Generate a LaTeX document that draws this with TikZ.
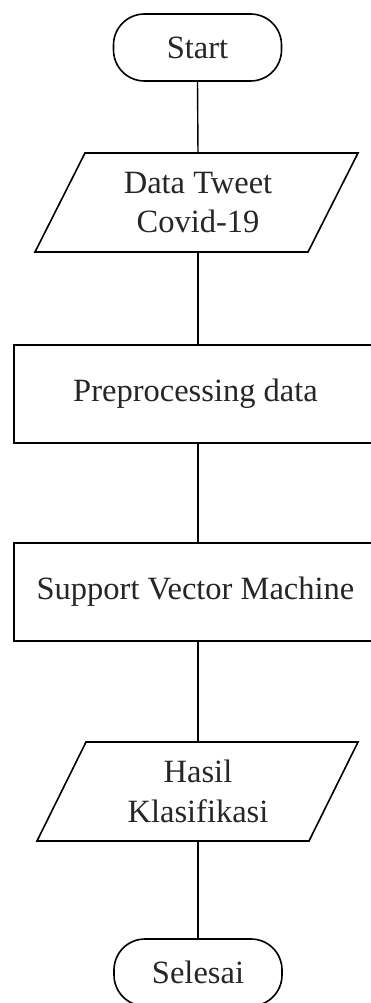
\documentclass[tikz,border=0pt]{standalone}
\usepackage{fontspec}
\setmainfont{Liberation Serif}
\begin{document}
\begin{tikzpicture}[x=1pt,y=-1pt,
  every node/.style={font=\fontsize{32.5}{39.5}\selectfont, text=black!85, inner sep=0pt},
  term/.style={draw, line width=1.6pt, rectangle, rounded corners=31pt, minimum width=168pt, minimum height=67pt},
  procbox/.style={draw, line width=1.6pt, rectangle, minimum width=368pt, minimum height=98pt},
  iobox/.style={minimum height=99pt, align=center},
  shapeline/.style={draw, line width=1.6pt, line join=miter},
  link/.style={draw, line width=1.4pt}]
\useasboundingbox (0,0) rectangle (371,1003);
\clip (0,0) rectangle (371,1003);
\fill[white] (0,0) rectangle (371,1003);

\node[term] (start) at (197.5,47.5) {Start};

\node[iobox] (data) at (198,202.5) {Data Tweet\\Covid-19};
\path[shapeline] (85,153) -- (358,153) -- (308,252) -- (35,252) -- cycle;

\node[procbox] (prep) at (198,394) {\hspace*{-5pt}Preprocessing data};

\node[procbox] (svm) at (198,592) {\hspace*{-5pt}Support Vector Machine};

\node[iobox] (hasil) at (198,791.5) {Hasil\\Klasifikasi};
\path[shapeline] (86,742) -- (358,742) -- (309,841) -- (37,841) -- cycle;

\node[term] (end) at (198,972.5) {Selesai};

\path[link] (start.south) -- (data.north);
\path[link] (data.south) -- (prep.north);
\path[link] (prep.south) -- (svm.north);
\path[link] (svm.south) -- (hasil.north);
\path[link] (hasil.south) -- (end.north);
\end{tikzpicture}
\end{document}
